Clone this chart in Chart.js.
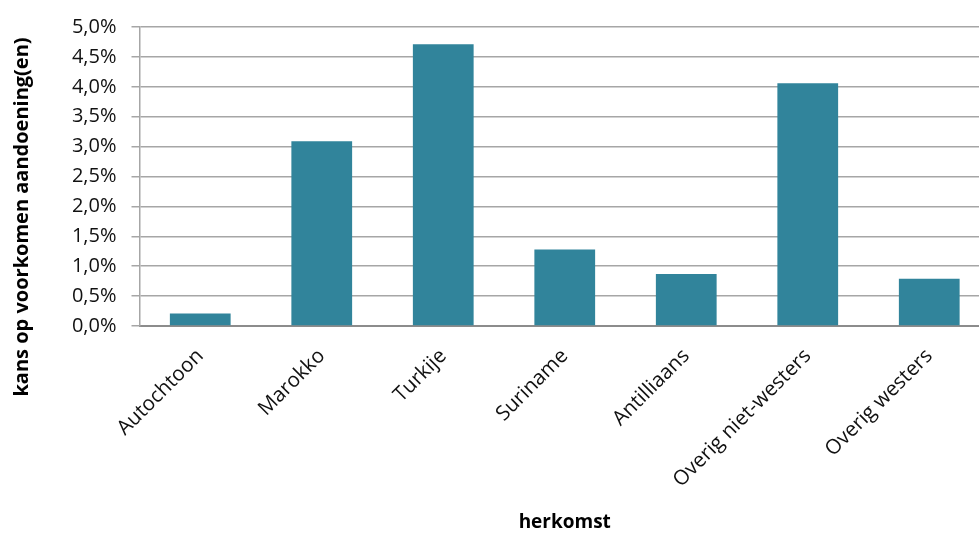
<!DOCTYPE html>
<html>
<head>
<meta charset="utf-8">
<script src="https://cdn.jsdelivr.net/npm/chart.js@4"></script>
<style>
html,body{margin:0;padding:0;background:#fff;overflow:hidden;width:979px;height:534px;}
#wrap{width:1000px;height:534px;}
</style>
</head>
<body>
<div id="wrap"><canvas id="c" width="1000" height="534"></canvas></div>
<script>
const categories = ["Autochtoon","Marokko","Turkije","Suriname","Antilliaans","Overig niet-westers","Overig westers"];
const values = [0.21, 3.09, 4.71, 1.28, 0.87, 4.06, 0.79];
const yTitle = "kans op voorkomen aandoening(en)";
const xTitle = "herkomst";

const yTitlePlugin = {
  id: 'yTitlePlugin',
  afterDraw(chart) {
    const ctx = chart.ctx;
    ctx.save();
    ctx.translate(22, 217);
    ctx.rotate(-Math.PI / 2);
    ctx.font = 'bold 20px "Open Sans"';
    ctx.fillStyle = '#000';
    ctx.textAlign = 'center';
    ctx.textBaseline = 'middle';
    ctx.fillText(yTitle, 0, 0);
    ctx.restore();
  }
};

new Chart(document.getElementById('c'), {
  type: 'bar',
  data: {
    labels: categories,
    datasets: [{
      data: values,
      backgroundColor: '#31849b',
      borderWidth: 0,
      barPercentage: 1,
      categoryPercentage: 0.5
    }]
  },
  options: {
    responsive: false,
    animation: false,
    devicePixelRatio: 1,
    layout: { padding: { top: 26, right: 10, left: 0, bottom: 0 } },
    plugins: { legend: { display: false }, tooltip: { enabled: false } },
    scales: {
      x: {
        grid: { display: false, drawTicks: false },
        border: { display: true, color: '#8c8c8c', width: 2 },
        ticks: {
          maxRotation: 45, minRotation: 45,
          padding: 18,
          color: '#111',
          font: { family: 'Open Sans', size: 20.5 }
        },
        title: {
          display: true, text: xTitle, color: '#000',
          font: { family: 'Open Sans', size: 19, weight: 'bold' },
          padding: { top: 0, bottom: 0 }
        },
        afterFit(scale) { scale.height = 208; }
      },
      y: {
        min: 0, max: 5,
        ticks: {
          stepSize: 0.5,
          padding: 15,
          color: '#111',
          font: { family: 'Open Sans', size: 20 },
          callback: (v) => v.toFixed(1).replace('.', ',') + '%'
        },
        grid: { color: '#a6a6a6', lineWidth: 1.5, tickLength: 8, tickColor: '#a6a6a6' },
        border: { display: true, color: '#a6a6a6', width: 1.5 },
        afterFit(scale) { scale.width = 139.5; }
      }
    }
  },
  plugins: [yTitlePlugin]
});
</script>
</body>
</html>
